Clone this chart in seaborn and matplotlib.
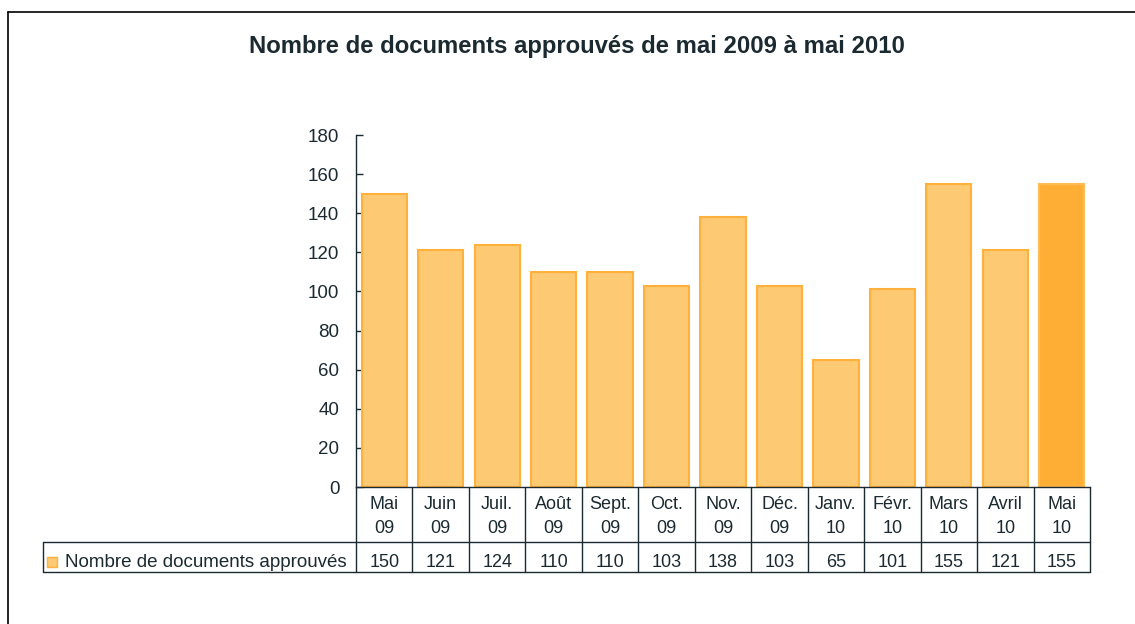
import matplotlib
matplotlib.use("Agg")
import matplotlib.pyplot as plt
import seaborn as sns
from matplotlib.lines import Line2D
from matplotlib.patches import Rectangle
from matplotlib.transforms import blended_transform_factory

# données
mois = ["Mai", "Juin", "Juil.", "Août", "Sept.", "Oct.", "Nov.", "Déc.",
        "Janv.", "Févr.", "Mars", "Avril", "Mai"]
annees = ["09", "09", "09", "09", "09", "09", "09", "09", "10", "10", "10", "10", "10"]
valeurs = [150, 121, 124, 110, 110, 103, 138, 103, 65, 101, 155, 121, 155]
serie = "Nombre de documents approuvés"
titre = "Nombre de documents approuvés de mai 2009 à mai 2010"

categories = [f"{m} {a}" for m, a in zip(mois, annees)]

sns.set_theme(style="white")
plt.rcParams["font.family"] = ["Liberation Sans", "DejaVu Sans"]
texte = "#1b2a30"
remplissage = "#fdc972"
bord = "#ffb13c"
fonce = "#ffae35"

W, H = 1135, 624
fig = plt.figure(figsize=(W / 100, H / 100), dpi=100)
ax = fig.add_axes([356 / W, (H - 487) / H, 734 / W, 352 / H])

couleurs = [remplissage] * (len(valeurs) - 1) + [fonce]
sns.barplot(x=categories, y=valeurs, hue=categories, palette=couleurs,
            legend=False, width=0.8, ax=ax, saturation=1)
for i, p in enumerate(ax.patches):
    p.set_edgecolor(bord if i < len(valeurs) - 1 else "#ffbb55")
    p.set_linewidth(1.5)

ax.set_xlim(-0.5, len(valeurs) - 0.5)
ax.set_ylim(0, 180)
ax.set_yticks(range(0, 181, 20))
ax.set_xticks([])
ax.set_xlabel("")
ax.set_ylabel("")
ax.tick_params(axis="y", direction="in", length=5, width=1, color=texte,
               labelsize=13.5, labelcolor=texte, pad=12, left=True)
for s in ["top", "right"]:
    ax.spines[s].set_visible(False)
for s in ["left", "bottom"]:
    ax.spines[s].set_color(texte)
    ax.spines[s].set_linewidth(1)

# tableau de données sous l'axe
def fy(py):
    return 1 - py / H

tr = blended_transform_factory(ax.transData, ax.transAxes)
y_bas = (487 - 572) / 352
for i in range(len(valeurs) + 1):
    ax.plot([i - 0.5, i - 0.5], [0, y_bas], transform=tr, color=texte,
            lw=1, clip_on=False)
for i, (m, a, v) in enumerate(zip(mois, annees, valeurs)):
    ax.text(i, (487 - 509) / 352, m, transform=tr, ha="center", va="baseline",
            fontsize=13, color=texte)
    ax.text(i, (487 - 533) / 352, a, transform=tr, ha="center", va="baseline",
            fontsize=13, color=texte)
    ax.text(i, (487 - 567) / 352, str(v), transform=tr, ha="center",
            va="baseline", fontsize=13, color=texte)

x_droite = 1090 / W
for py in [542, 572]:
    fig.add_artist(Line2D([42.5 / W, x_droite], [fy(py), fy(py)], color=texte, lw=1))
fig.add_artist(Line2D([42.5 / W, 42.5 / W], [fy(542), fy(572)], color=texte, lw=1))
fig.add_artist(Rectangle((47 / W, fy(567)), 10 / W, 10 / H, transform=fig.transFigure,
                         facecolor=remplissage, edgecolor=bord, lw=1))
fig.text(65 / W, fy(567), serie, ha="left", va="baseline", fontsize=13.5, color=texte)

# titre et cadre
fig.text(577 / W, fy(46), titre, ha="center", va="center", fontsize=17.2,
         fontweight="bold", color=texte)
fig.add_artist(Line2D([8 / W, 8 / W], [fy(12), 0], color="black", lw=1.2))
fig.add_artist(Line2D([8 / W, 1], [fy(12), fy(12)], color="black", lw=1.2))

fig.savefig("out.png", dpi=100)
